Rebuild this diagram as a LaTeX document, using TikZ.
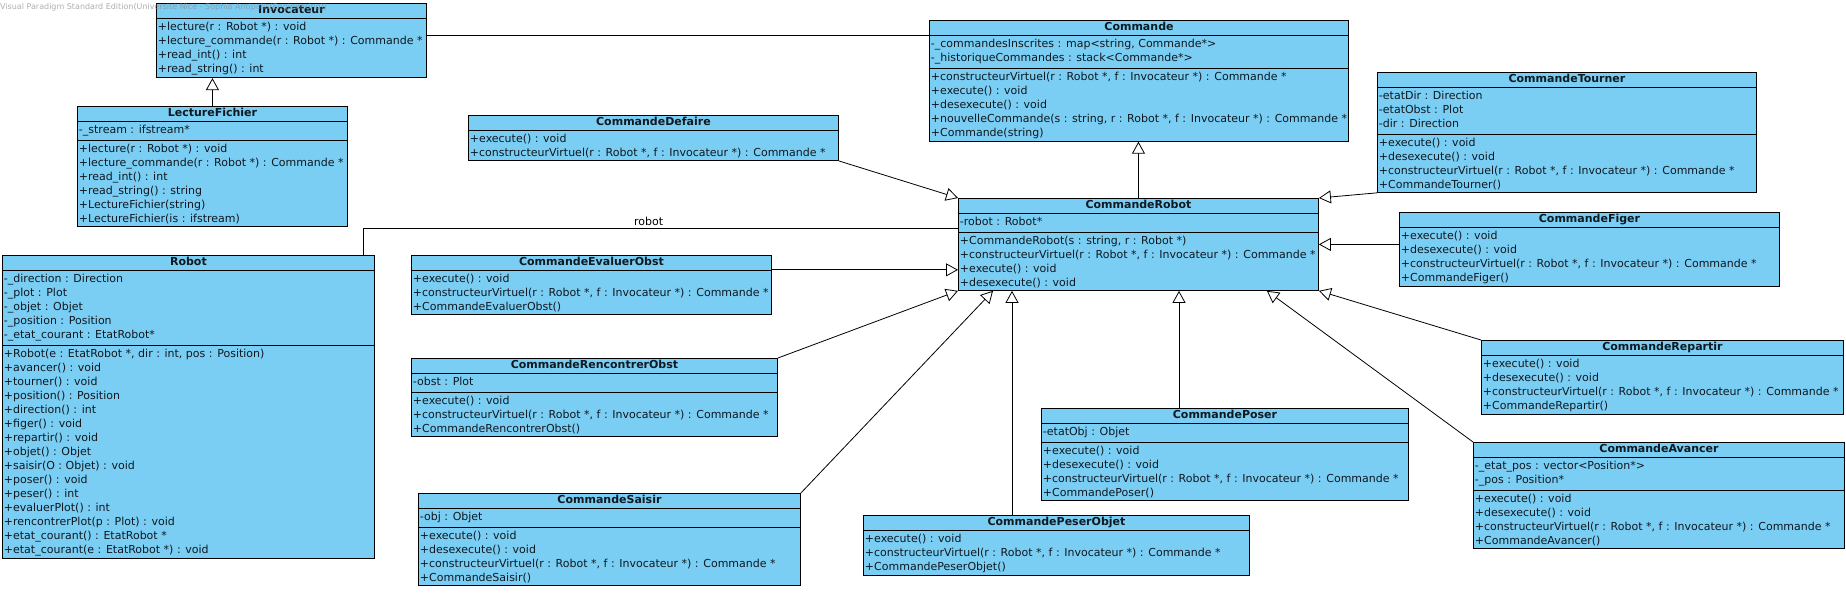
\documentclass[tikz,border=0pt]{standalone}
\usepackage{fontspec}
\setmainfont{DejaVu Sans}
\usepackage{tikz}
\usetikzlibrary{positioning,arrows.meta,calc,shapes.multipart}
\definecolor{vpblue}{HTML}{7ACEF4}
\definecolor{vptext}{HTML}{101820}
\newcommand{\cvirt}{+constructeurVirtuel(r : Robot *, f : Invocateur *) : Commande *}
\newcommand{\ctitle}[1]{\rule[-2pt]{0pt}{10pt}\smash{\textbf{#1}}}

\begin{document}
\begin{tikzpicture}[x=1pt, y=-1pt, font=\fontsize{11}{14}\selectfont,
  cls/.style={draw, fill=vpblue, text=vptext, anchor=north west, rectangle split, rectangle split parts=#1,
    rectangle split part align={center,left,left}, align=left, inner xsep=1.5pt, inner ysep=2pt, line width=0.9pt},
  cls/.default=3,
  gen/.style={-{Triangle[open, length=12pt, width=13pt, fill=white]}, line width=0.8pt},
  assoc/.style={line width=0.8pt}]
\useasboundingbox (0,0) rectangle (1846,593);

\node[cls=2, minimum width=270pt, minimum height=77pt] (inv) at (156,3) {\ctitle{Invocateur}
  \nodepart{two}\strut+lecture(r : Robot *) : void\\+lecture\_commande(r : Robot *) : Commande *\\+read\_int() : int\\+read\_string() : int};
\node[cls, minimum width=270pt, minimum height=123pt] (lf) at (77,106) {\ctitle{LectureFichier}
  \nodepart{two}\strut-\_stream : ifstream*\strut
  \nodepart{three}\strut+lecture(r : Robot *) : void\\+lecture\_commande(r : Robot *) : Commande *\\+read\_int() : int\\+read\_string() : string\\+LectureFichier(string)\\+LectureFichier(is : ifstream)};
\node[cls, minimum width=372pt, minimum height=307pt] (rob) at (2,255) {\ctitle{Robot}
  \nodepart{two}\strut-\_direction : Direction\\-\_plot : Plot\\-\_objet : Objet\\-\_position : Position\\-\_etat\_courant : EtatRobot*\strut
  \nodepart{three}\strut+Robot(e : EtatRobot *, dir : int, pos : Position)\\+avancer() : void\\+tourner() : void\\+position() : Position\\+direction() : int\\+figer() : void\\+repartir() : void\\+objet() : Objet\\+saisir(O : Objet) : void\\+poser() : void\\+peser() : int\\+evaluerPlot() : int\\+rencontrerPlot(p : Plot) : void\\+etat\_courant() : EtatRobot *\\+etat\_courant(e : EtatRobot *) : void};
\node[cls=2, minimum width=370pt, minimum height=54pt] (dfr) at (468,115) {\ctitle{CommandeDefaire}
  \nodepart{two}\strut+execute() : void\\\cvirt};
\node[cls, minimum width=419pt, minimum height=124pt] (cmd) at (929,20) {\ctitle{Commande}
  \nodepart{two}\strut-\_commandesInscrites : map<string, Commande*>\\-\_historiqueCommandes : stack<Commande*>\strut
  \nodepart{three}\strut\cvirt\\+execute() : void\\+desexecute() : void\\+nouvelleCommande(s : string, r : Robot *, f : Invocateur *) : Commande *\\+Commande(string)};
\node[cls, minimum width=360pt, minimum height=96pt] (crobot) at (958,198) {\ctitle{CommandeRobot}
  \nodepart{two}\strut-robot : Robot*\strut
  \nodepart{three}\strut+CommandeRobot(s : string, r : Robot *)\\\cvirt\\+execute() : void\\+desexecute() : void};
\node[cls, minimum width=379pt, minimum height=123pt] (tou) at (1377,72) {\ctitle{CommandeTourner}
  \nodepart{two}\strut-etatDir : Direction\\-etatObst : Plot\\-dir : Direction\strut
  \nodepart{three}\strut+execute() : void\\+desexecute() : void\\\cvirt\\+CommandeTourner()};
\node[cls=2, minimum width=380pt, minimum height=78pt] (fig) at (1399,212) {\ctitle{CommandeFiger}
  \nodepart{two}\strut+execute() : void\\+desexecute() : void\\\cvirt\\+CommandeFiger()};
\node[cls=2, minimum width=360pt, minimum height=64pt] (evo) at (411,255) {\ctitle{CommandeEvaluerObst}
  \nodepart{two}\strut+execute() : void\\\cvirt\\+CommandeEvaluerObst()};
\node[cls, minimum width=366pt, minimum height=92pt] (rco) at (411,358) {\ctitle{CommandeRencontrerObst}
  \nodepart{two}\strut-obst : Plot\strut
  \nodepart{three}\strut+execute() : void\\\cvirt\\+CommandeRencontrerObst()};
\node[cls, minimum width=382pt, minimum height=96pt] (sai) at (418,493) {\ctitle{CommandeSaisir}
  \nodepart{two}\strut-obj : Objet\strut
  \nodepart{three}\strut+execute() : void\\+desexecute() : void\\\cvirt\\+CommandeSaisir()};
\node[cls=2, minimum width=386pt, minimum height=65pt] (pes) at (863,515) {\ctitle{CommandePeserObjet}
  \nodepart{two}\strut+execute() : void\\\cvirt\\+CommandePeserObjet()};
\node[cls, minimum width=367pt, minimum height=95pt] (pos) at (1041,408) {\ctitle{CommandePoser}
  \nodepart{two}\strut-etatObj : Objet\strut
  \nodepart{three}\strut+execute() : void\\+desexecute() : void\\\cvirt\\+CommandePoser()};
\node[cls=2, minimum width=362pt, minimum height=78pt] (rep) at (1481,340) {\ctitle{CommandeRepartir}
  \nodepart{two}\strut+execute() : void\\+desexecute() : void\\\cvirt\\+CommandeRepartir()};
\node[cls, minimum width=371pt, minimum height=110pt] (av) at (1473,442) {\ctitle{CommandeAvancer}
  \nodepart{two}\strut-\_etat\_pos : vector<Position*>\\-\_pos : Position*\strut
  \nodepart{three}\strut+execute() : void\\+desexecute() : void\\\cvirt\\+CommandeAvancer()};

% entry points on the boxes
\coordinate (cmd-in) at ($(cmd.north west)+(0,15)$);
\coordinate (rob-in) at ($(crobot.north west)+(0,30)$);
\coordinate (evo-in) at ($(crobot.south west)+(0,-21)$);
\coordinate (sai-in) at ($(crobot.south west)+(35,0)$);
\coordinate (pes-in) at ($(crobot.south west)+(54,0)$);
\coordinate (pos-in) at ($(crobot.south west)+(221,0)$);
\coordinate (av-in) at ($(crobot.south east)+(-52,0)$);
\coordinate (rob-out) at ($(rob.north east)+(-12,0)$);

\draw[gen] (lf.north) -- (lf.north |- inv.south);
\draw[assoc] (inv.east |- cmd-in) -- (cmd-in);
\draw[gen] (crobot.north) -- (crobot.north |- cmd.south);
\draw[assoc] (rob-out) |- (rob-in) node[pos=0.74, above, inner sep=1.5pt] {robot};
\draw[gen] (dfr.south east) -- (crobot.north west);
\draw[gen] (evo.east |- evo-in) -- (evo-in);
\draw[gen] (rco.north east) -- (crobot.south west);
\draw[gen] (sai.north east) -- (sai-in);
\draw[gen] (pes.north -| pes-in) -- (pes-in);
\draw[gen] (pos.north -| pos-in) -- (pos-in);
\draw[gen] (av.north west) -- (av-in);
\draw[gen] (rep.north west) -- (crobot.south east);
\draw[gen] (crobot.east -| fig.west) -- (crobot.east);
\draw[gen] (tou.south west) -- (crobot.north east);

\node[anchor=west, inner sep=0pt, font=\fontsize{8}{9}\selectfont, text=black!45, text opacity=0.7] (wm) at (0,7) {Visual Paradigm Standard Edition(Université Nice - Sophia Antipolis(Engineering))};
\end{tikzpicture}
\end{document}
